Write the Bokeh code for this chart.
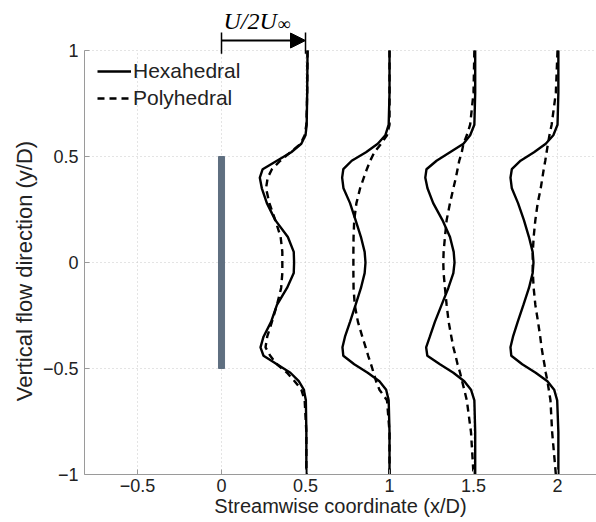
from bokeh.plotting import figure
from bokeh.models import Arrow, NormalHead, Label, FixedTicker, Range1d, Legend, LegendItem
from bokeh.embed import file_html
from bokeh.resources import INLINE

# ---- data -------------------------------------------------------------
y_levels = [1.0, 0.8, 0.65, 0.6, 0.56, 0.52, 0.48, 0.44, 0.40, 0.35, 0.28, 0.2, 0.12, 0.05, 0.0,
            -0.05, -0.12, -0.2, -0.28, -0.35, -0.40, -0.44, -0.48, -0.52, -0.56, -0.6, -0.65, -0.8, -1.0]

hex_x05 = [0.512, 0.51, 0.507, 0.5, 0.475, 0.415, 0.33, 0.245, 0.228, 0.24, 0.27, 0.32, 0.395, 0.43, 0.432,
           0.43, 0.39, 0.33, 0.295, 0.25, 0.232, 0.25, 0.33, 0.41, 0.46, 0.49, 0.502, 0.505, 0.505]
poly_x05 = [0.512, 0.51, 0.505, 0.495, 0.47, 0.41, 0.35, 0.30, 0.275, 0.265, 0.285, 0.32, 0.352, 0.362, 0.362,
            0.362, 0.355, 0.33, 0.30, 0.272, 0.262, 0.29, 0.33, 0.39, 0.435, 0.475, 0.495, 0.505, 0.505]

hex_x10 = [1.0, 1.0, 0.995, 0.975, 0.93, 0.86, 0.775, 0.725, 0.718, 0.726, 0.765, 0.798, 0.83, 0.852, 0.857,
           0.852, 0.83, 0.798, 0.765, 0.735, 0.72, 0.725, 0.79, 0.87, 0.94, 0.98, 0.995, 1.0, 1.0]
poly_x10 = [1.0, 1.0, 1.0, 0.985, 0.95, 0.91, 0.885, 0.865, 0.847, 0.825, 0.803, 0.79, 0.786, 0.785, 0.785,
            0.785, 0.786, 0.793, 0.812, 0.838, 0.858, 0.873, 0.89, 0.905, 0.92, 0.94, 0.985, 1.0, 1.0]

hex_x15 = [1.51, 1.51, 1.505, 1.48, 1.44, 1.36, 1.28, 1.22, 1.213, 1.226, 1.26, 1.315, 1.36, 1.382, 1.387,
           1.38, 1.35, 1.31, 1.27, 1.24, 1.218, 1.225, 1.30, 1.38, 1.445, 1.485, 1.505, 1.51, 1.51]
poly_x15 = [1.505, 1.50, 1.48, 1.46, 1.44, 1.43, 1.415, 1.405, 1.395, 1.38, 1.36, 1.34, 1.33, 1.322, 1.32,
            1.322, 1.33, 1.34, 1.352, 1.368, 1.38, 1.393, 1.405, 1.42, 1.432, 1.445, 1.46, 1.485, 1.50]

hex_x20 = [2.005, 2.005, 2.0, 1.975, 1.93, 1.86, 1.78, 1.728, 1.72, 1.728, 1.765, 1.80, 1.83, 1.852, 1.857,
           1.852, 1.83, 1.797, 1.763, 1.735, 1.72, 1.725, 1.79, 1.87, 1.94, 1.98, 1.998, 2.005, 2.005]
poly_x20 = [2.0, 1.99, 1.965, 1.952, 1.943, 1.935, 1.927, 1.918, 1.91, 1.90, 1.882, 1.868, 1.858, 1.853, 1.852,
            1.853, 1.858, 1.868, 1.884, 1.897, 1.905, 1.913, 1.922, 1.93, 1.94, 1.948, 1.958, 1.968, 1.99]

hex_series = [hex_x05, hex_x10, hex_x15, hex_x20]
poly_series = [poly_x05, poly_x10, poly_x15, poly_x20]

x_ticks = [-0.5, 0, 0.5, 1, 1.5, 2]
y_ticks = [-1, -0.5, 0, 0.5, 1]
x_tick_labels = {-0.5: "\u22120.5", 0: "0", 0.5: "0.5", 1: "1", 1.5: "1.5", 2: "2"}
y_tick_labels = {-1: "\u22121", -0.5: "\u22120.5", 0: "0", 0.5: "0.5", 1: "1"}
y_data_bounds = (-1, 1)

x_title = "Streamwise coordinate (x/D)"
y_title = "Vertical flow direction (y/D)"

plate_x = 0.0
plate_half_width = 0.018
plate_y = (-0.5, 0.5)

scale_arrow_x = (0.0, 0.5)   # U/2U_inf = 0.5 reference bar
scale_arrow_y = 1.047
scale_bar_y = (0.985, 1.085)

# ---- figure -----------------------------------------------------------
p = figure(width=596, height=522, output_backend="svg", toolbar_location=None,
           x_range=Range1d(-0.8155, 2.232), y_range=Range1d(-1, 1.2075),
           min_border_left=84, min_border_right=0, min_border_top=6, min_border_bottom=48)
p.outline_line_color = None
p.background_fill_color = "white"

FONT = "Liberation Sans"
for ax in (p.xaxis[0], p.yaxis[0]):
    ax.axis_line_color = "#9a9a9a"
    ax.major_tick_line_color = "#9a9a9a"
    ax.major_tick_in = 5
    ax.major_tick_out = 0
    ax.minor_tick_line_color = None
    ax.major_label_text_font = FONT
    ax.major_label_text_font_size = "18px"
    ax.major_label_text_color = "#222222"
    ax.axis_label_text_font = FONT
    ax.axis_label_text_font_style = "normal"
    ax.axis_label_text_color = "#222222"

p.xaxis.ticker = FixedTicker(ticks=x_ticks)
p.yaxis.ticker = FixedTicker(ticks=y_ticks)
p.yaxis.bounds = y_data_bounds
p.xaxis.major_label_overrides = x_tick_labels
p.yaxis.major_label_overrides = y_tick_labels
p.xaxis.axis_label = x_title
# trailing no-break spaces keep the rotated title centred on the -1..1 data span
p.yaxis.axis_label = y_title + "\u00a0" * 10
p.xaxis.axis_label_text_font_size = "20px"
p.yaxis.axis_label_text_font_size = "22px"
p.xaxis.major_label_standoff = 4
p.xaxis.axis_label_standoff = 0
p.yaxis.major_label_standoff = 6
p.yaxis.axis_label_standoff = 3

GRID_COLOR = "#c8c8c8"
p.xgrid.grid_line_color = None
p.ygrid.ticker = FixedTicker(ticks=y_ticks)
p.ygrid.grid_line_color = GRID_COLOR
p.ygrid.grid_line_dash = "1 3"
p.ygrid.grid_line_width = 1
# vertical grid lines limited to the data extent (-1..1)
p.segment(x0=x_ticks, y0=[y_data_bounds[0]] * len(x_ticks), x1=x_ticks, y1=[y_data_bounds[1]] * len(x_ticks),
          line_color=GRID_COLOR, line_dash="1 3", line_width=1)

# plate
p.quad(left=[plate_x - plate_half_width], right=[plate_x + plate_half_width],
       bottom=[plate_y[0]], top=[plate_y[1]], fill_color="#5f6f80", line_color="#5f6f80")

hex_renderers = []
poly_renderers = []
for xs in hex_series:
    hex_renderers.append(p.line(xs, y_levels, line_color="black", line_width=2.4))
for xs in poly_series:
    poly_renderers.append(p.line(xs, y_levels, line_color="black", line_width=2.4, line_dash="7 5"))

legend = Legend(items=[LegendItem(label="Hexahedral", renderers=[hex_renderers[0]]),
                       LegendItem(label="Polyhedral", renderers=[poly_renderers[0]])],
                location=(13, 364), margin=0, padding=0, spacing=3,
                glyph_width=34, glyph_height=24, label_height=24, label_standoff=2,
                label_text_font=FONT, label_text_font_size="21px", label_text_color="#222222",
                background_fill_alpha=0, border_line_color=None)
p.add_layout(legend)

# scale arrow  U/2U_inf
p.add_layout(Arrow(end=NormalHead(size=15, fill_color="black", line_color="black"),
                   x_start=scale_arrow_x[0], y_start=scale_arrow_y,
                   x_end=scale_arrow_x[1], y_end=scale_arrow_y, line_width=2, line_color="black"))
for xb in scale_arrow_x:
    p.add_layout(Arrow(end=None, x_start=xb, y_start=scale_bar_y[0], x_end=xb, y_end=scale_bar_y[1],
                       line_width=1.5, line_color="black"))
p.add_layout(Label(x=0.012, y=1.141, text="U/2U", text_font="Liberation Serif",
                   text_font_style="italic", text_font_size="24px", text_color="black",
                   text_baseline="alphabetic"))
p.add_layout(Label(x=0.333, y=1.127, text="\u221e", text_font="Liberation Serif",
                   text_font_size="18px", text_color="black", text_baseline="alphabetic"))

open("out.html", "w").write(file_html(p, INLINE))
